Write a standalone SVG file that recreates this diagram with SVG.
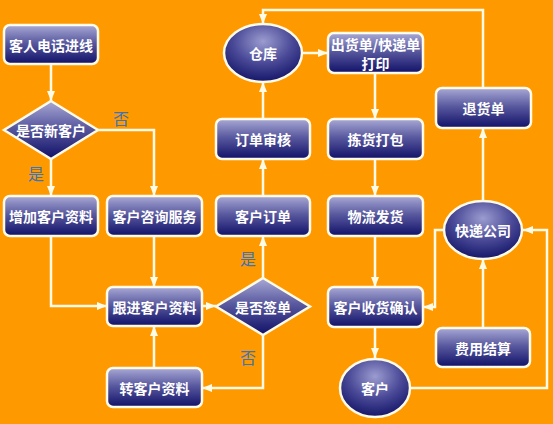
<svg xmlns="http://www.w3.org/2000/svg" width="553" height="424" viewBox="0 0 553 424">
<defs>
<linearGradient id="g" x1="0" y1="0" x2="0" y2="1">
<stop offset="0" stop-color="#a9a9d6"/>
<stop offset="0.45" stop-color="#5a5aa0"/>
<stop offset="1" stop-color="#101068"/>
</linearGradient>
<radialGradient id="ge" cx="0.5" cy="0.3" r="0.75">
<stop offset="0" stop-color="#9c9cd0"/>
<stop offset="0.5" stop-color="#4a4a98"/>
<stop offset="1" stop-color="#0e0e62"/>
</radialGradient>
<marker id="a" markerUnits="userSpaceOnUse" markerWidth="10" markerHeight="10" viewBox="0 0 10 10" refX="10" refY="5" orient="auto">
<path d="M0,1 L10,5 L0,9 Z" fill="#fffbe6"/>
</marker>
</defs>
<style>
.n{fill:url(#g);stroke:#fffbe6;stroke-width:2.5}
.e{fill:url(#ge);stroke:#fffbe6;stroke-width:2.5}
.t{font-family:"Noto Sans CJK SC","Noto Sans",sans-serif;font-size:14px;font-weight:bold;fill:#ffffff;text-anchor:middle;dominant-baseline:central}
.l{font-family:"Noto Sans CJK SC","Noto Sans",sans-serif;font-size:16px;fill:#3d73b9;text-anchor:middle;dominant-baseline:central}
.c{fill:none;stroke:#fffbe6;stroke-width:2.5;marker-end:url(#a)}
</style>
<rect width="553" height="424" fill="#ff9900"/>
<g id="connectors">
<path class="c" d="M51,64 V101"/>
<path class="c" d="M51,159 V196"/>
<path class="c" d="M98,130 H154 V196"/>
<path class="c" d="M51,236 V306 H107"/>
<path class="c" d="M154,236 V287"/>
<path class="c" d="M202,306 H216"/>
<path class="c" d="M263,278 V236"/>
<path class="c" d="M263,335 V388 H202"/>
<path class="c" d="M154,368 V326"/>
<path class="c" d="M263,196 V159"/>
<path class="c" d="M263,119 V82"/>
<path class="c" d="M302,53 H328"/>
<path class="c" d="M375,73 V119"/>
<path class="c" d="M375,159 V196"/>
<path class="c" d="M375,236 V287"/>
<path class="c" d="M375,327 V358"/>
<path class="c" d="M410,388 H547 V230 H523"/>
<path class="c" d="M483,328 V259"/>
<path class="c" d="M444,230 H435 V307 H423"/>
<path class="c" d="M483,201 V128"/>
<path class="c" d="M483,88 V10 H263 V24"/>
</g>
<g id="labels">
<text class="l" x="121" y="118">否</text>
<text class="l" x="36" y="173">是</text>
<text class="l" x="248" y="258">是</text>
<text class="l" x="248" y="357">否</text>
</g>
<g id="n1"><rect class="n" x="4" y="25" width="94" height="39" rx="6"/><text class="t" x="51" y="44.5">客人电话进线</text></g>
<g id="n2"><polygon class="n" points="51,101 98,130 51,159 4,130"/><text class="t" x="51" y="130">是否新客户</text></g>
<g id="n3"><rect class="n" x="4" y="196" width="94" height="40" rx="6"/><text class="t" x="51" y="216">增加客户资料</text></g>
<g id="n4"><rect class="n" x="107" y="196" width="95" height="40" rx="6"/><text class="t" x="154.5" y="216">客户咨询服务</text></g>
<g id="n5"><rect class="n" x="107" y="287" width="95" height="39" rx="6"/><text class="t" x="154.5" y="306.5">跟进客户资料</text></g>
<g id="n6"><polygon class="n" points="263,278 310,306.5 263,335 216,306.5"/><text class="t" x="263" y="306.5">是否签单</text></g>
<g id="n7"><rect class="n" x="107" y="368" width="95" height="39" rx="6"/><text class="t" x="154.5" y="387.5">转客户资料</text></g>
<g id="n8"><rect class="n" x="216" y="196" width="94" height="40" rx="6"/><text class="t" x="263" y="216">客户订单</text></g>
<g id="n9"><rect class="n" x="216" y="119" width="94" height="40" rx="6"/><text class="t" x="263" y="139">订单审核</text></g>
<g id="n10"><ellipse class="e" cx="263" cy="53" rx="39" ry="29"/><text class="t" x="263" y="53">仓库</text></g>
<g id="n11"><rect class="n" x="328" y="33" width="95" height="40" rx="6"/><text class="t" x="375.5" y="44">出货单/快递单</text><text class="t" x="375.5" y="63">打印</text></g>
<g id="n12"><rect class="n" x="328" y="119" width="95" height="40" rx="6"/><text class="t" x="375.5" y="139">拣货打包</text></g>
<g id="n13"><rect class="n" x="328" y="196" width="95" height="40" rx="6"/><text class="t" x="375.5" y="216">物流发货</text></g>
<g id="n14"><rect class="n" x="328" y="287" width="95" height="40" rx="6"/><text class="t" x="375.5" y="307">客户收货确认</text></g>
<g id="n15"><ellipse class="e" cx="375" cy="388" rx="35" ry="29"/><text class="t" x="375" y="388">客户</text></g>
<g id="n16"><ellipse class="e" cx="483" cy="230" rx="39" ry="29"/><text class="t" x="483" y="230">快递公司</text></g>
<g id="n17"><rect class="n" x="436" y="328" width="94" height="39" rx="6"/><text class="t" x="483" y="347.5">费用结算</text></g>
<g id="n18"><rect class="n" x="436" y="88" width="95" height="40" rx="6"/><text class="t" x="483.5" y="108">退货单</text></g>
</svg>
